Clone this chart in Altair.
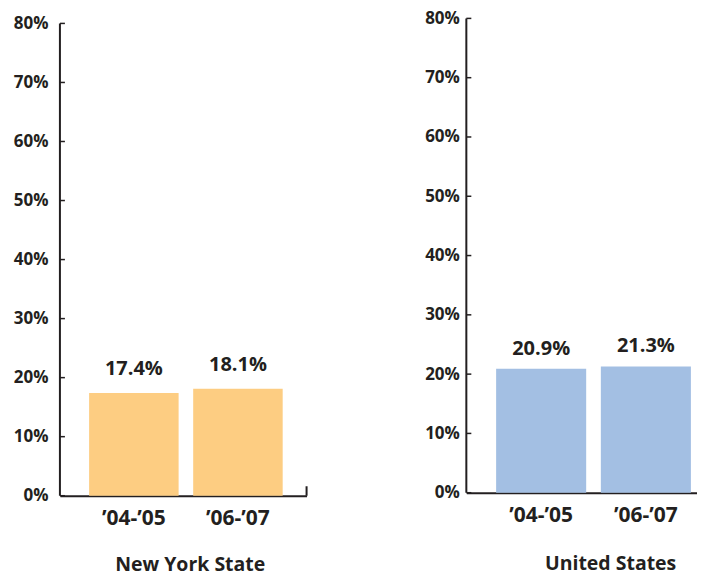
import altair as alt
import pandas as pd

periods = ["’04-’05", "’06-’07"]
ny_values = [17.4, 18.1]
us_values = [20.9, 21.3]
ny_labels = ["17.4%", "18.1%"]
us_labels = ["20.9%", "21.3%"]
tick_values = [0, 10, 20, 30, 40, 50, 60, 70, 80]

FONT = "Open Sans"
INK = "#231F20"


def panel(values, labels, color, title, title_x, title_pad, width, height, ymax,
          label_pad, p_outer, align, text_dy):
    df = pd.DataFrame({"period": periods, "value": values, "label": labels})
    ticks = pd.DataFrame({"t": tick_values})
    yscale = alt.Scale(domain=[0, ymax], nice=False)
    xscale = alt.Scale(domain=periods, paddingInner=0.14, paddingOuter=p_outer, align=align)
    bars = alt.Chart(df).mark_bar(color=color).encode(
        x=alt.X("period:N", sort=periods, scale=xscale,
                axis=alt.Axis(title=title, labelAngle=0, tickSize=0, labelPadding=12,
                              labelFont=FONT, labelFontSize=21, labelFontWeight="bold",
                              labelColor=INK, titleFont=FONT, titleFontSize=19.5,
                              titleFontWeight="bold", titleColor=INK, titlePadding=title_pad,
                              titleX=title_x, domainColor=INK, domainWidth=2)),
        y=alt.Y("value:Q", scale=yscale,
                axis=alt.Axis(title=None, values=tick_values,
                              labelExpr="datum.value + '%'", tickSize=0, domain=False,
                              labelPadding=label_pad, labelFont=FONT, labelFontSize=17,
                              labelFontWeight="bold", labelColor=INK, grid=False)),
    )
    text = alt.Chart(df).mark_text(font=FONT, fontSize=20, fontWeight="bold", color=INK,
                                   baseline="alphabetic", dy=text_dy).encode(
        x=alt.X("period:N", sort=periods, scale=xscale),
        y=alt.Y("value:Q", scale=yscale),
        text="label:N",
    )
    tick_rules = alt.Chart(ticks).mark_rule(color=INK, strokeWidth=1.5).encode(
        y=alt.Y("t:Q", scale=yscale),
        x=alt.value(0),
        x2=alt.value(5),
    )
    axis_line = alt.Chart(pd.DataFrame({"a": [0]})).mark_rule(color=INK, strokeWidth=2).encode(
        x=alt.value(0),
        y=alt.datum(0, scale=yscale),
        y2=alt.datum(80),
    )
    layers = [bars, text, tick_rules, axis_line]
    if width >= 247:
        end_tick = alt.Chart(pd.DataFrame({"a": [0]})).mark_rule(color=INK, strokeWidth=2).encode(
            x=alt.value(width),
            y=alt.datum(0, scale=yscale),
            y2=alt.datum(1.6),
        )
        layers.append(end_tick)
    return alt.layer(*layers).properties(width=width, height=height)


left = panel(ny_values, ny_labels, "#FDCD82", "New York State", 130, 27, 247, 478, 80.85,
             12, 0.255, 0.55, -18)
right = panel(us_values, us_labels, "#A3BFE3", "United States", 144, 29, 231, 475, 80,
              7, 0.1714, 0.83, -14)

chart = alt.hconcat(left, right, spacing=117).configure_view(stroke=None).properties(
    padding={"left": 5, "top": 1, "right": 0, "bottom": 4}
)

chart.save("out.html", embed_options={"renderer": "svg", "actions": False})
